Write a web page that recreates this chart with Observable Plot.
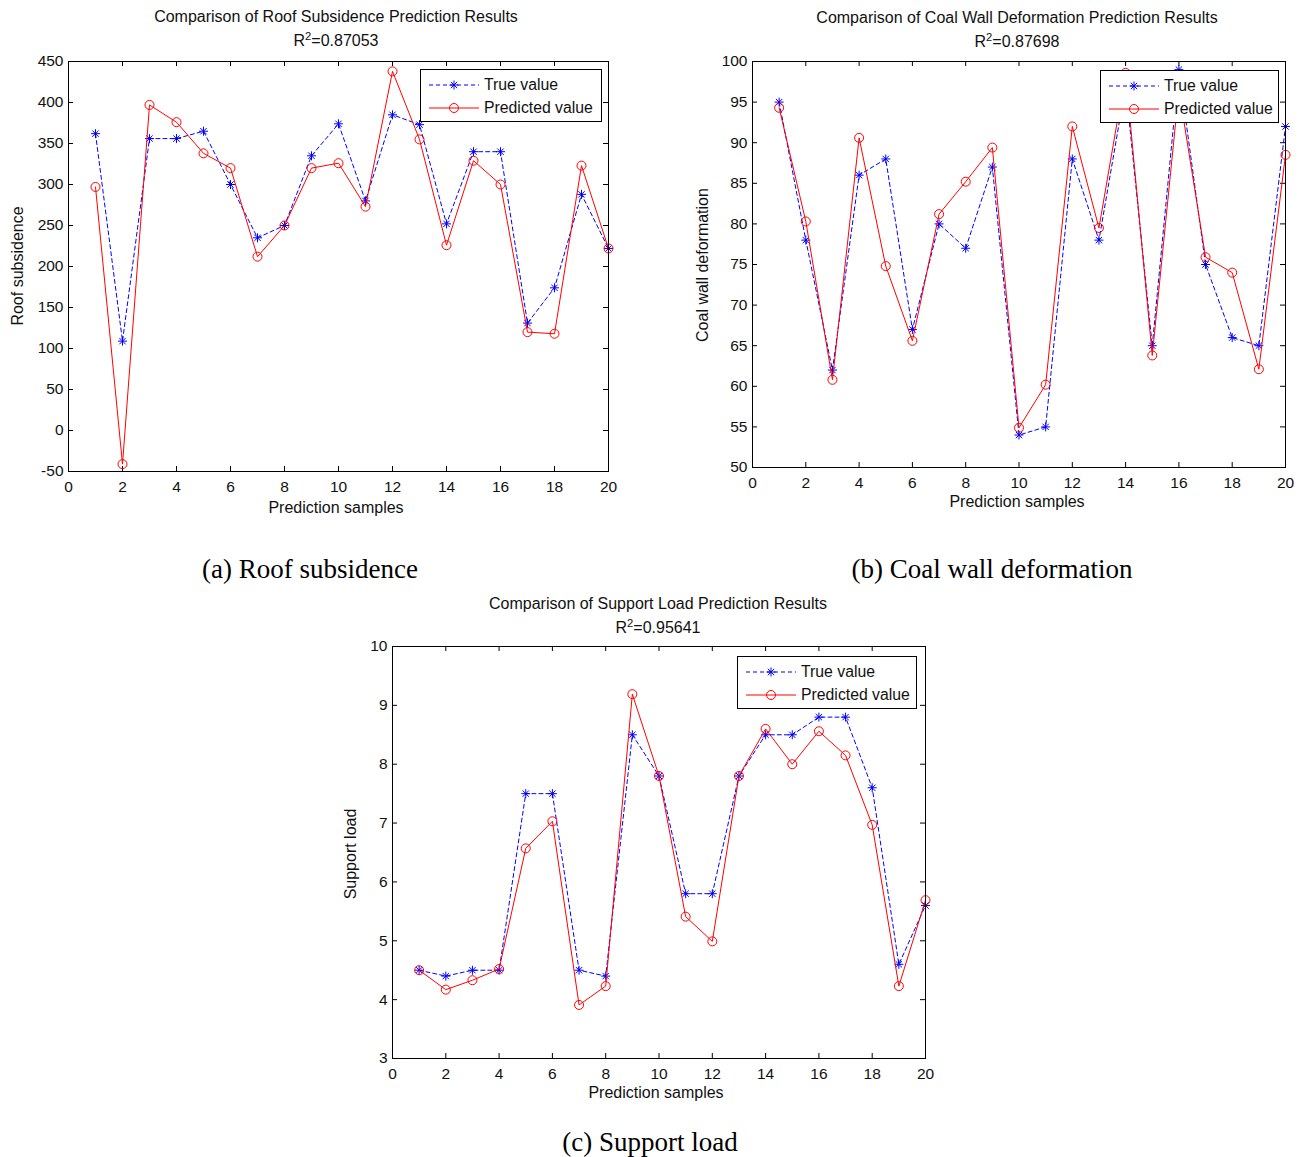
<!DOCTYPE html>
<html><head><meta charset="utf-8">
<script src="https://cdn.jsdelivr.net/npm/d3@7"></script>
<script src="https://cdn.jsdelivr.net/npm/@observablehq/plot@0.6"></script>
<style>
body{margin:0;background:#fff;}
#root{position:relative;width:1306px;height:1157px;background:#fff;font-family:Arial,"Liberation Sans",sans-serif;color:#111;overflow:hidden}
.abs{position:absolute;white-space:nowrap;line-height:1;transform:translate(-50%,-50%)}
.title{font-size:16px}
.xlab{font-size:16px}
.ylab{font-size:16px;transform:translate(-50%,-50%) rotate(-90deg)}
.cap{font-family:"Liberation Serif","Times New Roman",serif;font-size:27px;color:#000}
.legend{position:absolute;border:1px solid #000;background:#fff;box-sizing:border-box;font-size:15.8px}
.legend .row{position:absolute;left:0;display:flex;align-items:center;height:22px}
.legend svg{display:block}
sup{font-size:0.7em;vertical-align:0.5em;line-height:0}
svg.panel{position:absolute}
</style></head><body><div id="root"></div>
<script>
// ---------------- data ----------------
const samples = [1,2,3,4,5,6,7,8,9,10,11,12,13,14,15,16,17,18,19,20];
const xTicks = [0,2,4,6,8,10,12,14,16,18,20];

const roofTrue = [362,109,356,356,365,300,235,250,335,374,280,385,373,252,340,340,131,174,288,222];
const roofPred = [297,-41,397,376,338,320,212,250,320,326,273,438,355,226,329,300,120,118,323,222];
const roofTicks = [-50,0,50,100,150,200,250,300,350,400,450];

const coalTrue = [95,78,62,86,88,67,80,77,87,54,55,88,78,97,65,99,75,66,65,92];
const coalPred = [94.3,80.3,60.8,90.6,74.8,65.6,81.2,85.2,89.4,54.9,60.2,92,79.5,98.6,63.8,96.5,75.9,74,62.1,88.5];
const coalTicks = [50,55,60,65,70,75,80,85,90,95,100];

const loadTrue = [4.5,4.4,4.5,4.5,7.5,7.5,4.5,4.4,8.5,7.8,5.8,5.8,7.8,8.5,8.5,8.8,8.8,7.6,4.6,5.6];
const loadPred = [4.5,4.17,4.33,4.52,6.57,7.03,3.91,4.23,9.19,7.8,5.41,4.99,7.8,8.6,8.0,8.56,8.15,6.97,4.23,5.69];
const loadTicks = [3,4,5,6,7,8,9,10];

const seriesNames = ["True value","Predicted value"];
const BLUE = "#0000ff", RED = "#ff0000";

// ---------------- panels ----------------
const panels = [
  {tv: roofTrue, pv: roofPred, yTicks: roofTicks, yDomain:[-50,450],
   frame:{left:68,right:608,top:61,bottom:471},
   title:"Comparison of Roof Subsidence Prediction Results", r2:"0.87053",
   titleX:336, titleY:17, r2Y:41,
   xlabel:"Prediction samples", xlabX:336, xlabY:508,
   ylabel:"Roof subsidence", ylabX:18, ylabY:266,
   caption:"(a) Roof subsidence", capX:310, capY:569,
   legend:{left:420, top:69, width:182, height:53}},
  {tv: coalTrue, pv: coalPred, yTicks: coalTicks, yDomain:[50,100],
   frame:{left:752,right:1285,top:61,bottom:467},
   title:"Comparison of Coal Wall Deformation Prediction Results", r2:"0.87698",
   titleX:1017, titleY:18, r2Y:42,
   xlabel:"Prediction samples", xlabX:1017, xlabY:502,
   ylabel:"Coal wall deformation", ylabX:703, ylabY:265,
   caption:"(b) Coal wall deformation", capX:992, capY:569,
   legend:{left:1100, top:70, width:179, height:53}},
  {tv: loadTrue, pv: loadPred, yTicks: loadTicks, yDomain:[3,10],
   frame:{left:392,right:925,top:646,bottom:1058},
   title:"Comparison of Support Load Prediction Results", r2:"0.95641",
   titleX:658, titleY:604, r2Y:628,
   xlabel:"Prediction samples", xlabX:656, xlabY:1093,
   ylabel:"Support load", ylabX:351, ylabY:854,
   caption:"(c) Support load", capX:650, capY:1142,
   legend:{left:737, top:656, width:180, height:53}}
];

const star = {draw(ctx, size){
  const r = Math.sqrt(size/Math.PI), d = r*Math.SQRT1_2;
  ctx.moveTo(-r,0); ctx.lineTo(r,0); ctx.moveTo(0,-r); ctx.lineTo(0,r);
  ctx.moveTo(-d,-d); ctx.lineTo(d,d); ctx.moveTo(-d,d); ctx.lineTo(d,-d);
}};

const root = document.getElementById("root");
function addText(cls, html, x, y){
  const el = document.createElement("div");
  el.className = "abs " + cls; el.innerHTML = html;
  el.style.left = x+"px"; el.style.top = y+"px";
  root.appendChild(el); return el;
}

for (const cfg of panels){
  const ml=70, mt=10, mr=20, mb=50;
  const fw = cfg.frame.right - cfg.frame.left, fh = cfg.frame.bottom - cfg.frame.top;
  const rows = samples.map((s,i)=>({x:s, t:cfg.tv[i], p:cfg.pv[i]}));
  const svg = Plot.plot({
    width: fw+ml+mr, height: fh+mt+mb,
    marginLeft: ml, marginTop: mt, marginRight: mr, marginBottom: mb,
    x:{domain:[0,20]}, y:{domain:cfg.yDomain},
    style:{fontFamily:'Arial,"Liberation Sans",sans-serif', fontSize:"15.5px", color:"#111", background:"transparent", overflow:"visible"},
    marks:[
      Plot.axisX({ticks:xTicks, tickSize:0, tickPadding:9, tickFormat:d=>String(d), label:null, fontSize:15.5}),
      Plot.axisY({ticks:cfg.yTicks, tickSize:0, tickPadding:5, tickFormat:d=>String(d), label:null, fontSize:15.5}),
      Plot.tickX(xTicks, {x:d=>d, insetTop: fh-5, stroke:"#000"}),
      Plot.tickX(xTicks, {x:d=>d, insetBottom: fh-5, stroke:"#000"}),
      Plot.tickY(cfg.yTicks, {y:d=>d, insetRight: fw-5, stroke:"#000"}),
      Plot.tickY(cfg.yTicks, {y:d=>d, insetLeft: fw-5, stroke:"#000"}),
      Plot.line(rows, {x:"x", y:"t", stroke:BLUE, strokeWidth:1, strokeDasharray:"4,3"}),
      Plot.dot(rows, {x:"x", y:"t", symbol:star, r:4.5, stroke:BLUE, fill:"none", strokeWidth:1}),
      Plot.line(rows, {x:"x", y:"p", stroke:RED, strokeWidth:1}),
      Plot.dot(rows, {x:"x", y:"p", r:4.5, stroke:RED, fill:"none", strokeWidth:1}),
      Plot.frame({stroke:"#000"})
    ]
  });
  svg.classList.add("panel");
  svg.style.left = (cfg.frame.left - ml) + "px";
  svg.style.top = (cfg.frame.top - mt) + "px";
  root.appendChild(svg);

  addText("title", cfg.title, cfg.titleX, cfg.titleY);
  addText("title", "R<sup>2</sup>=" + cfg.r2, cfg.titleX, cfg.r2Y);
  addText("xlab", cfg.xlabel, cfg.xlabX, cfg.xlabY);
  addText("ylab", cfg.ylabel, cfg.ylabX, cfg.ylabY);
  addText("cap", cfg.caption, cfg.capX, cfg.capY);

  // legend
  const lg = document.createElement("div");
  lg.className = "legend";
  lg.style.left = cfg.legend.left+"px"; lg.style.top = cfg.legend.top+"px";
  lg.style.width = cfg.legend.width+"px"; lg.style.height = cfg.legend.height+"px";
  const ns = "http://www.w3.org/2000/svg";
  seriesNames.forEach((name, k)=>{
    const row = document.createElement("div");
    row.className = "row"; row.style.top = (k===0 ? 4 : 27) + "px";
    const s = document.createElementNS(ns, "svg");
    s.setAttribute("width", 62); s.setAttribute("height", 22);
    const ln = document.createElementNS(ns, "line");
    ln.setAttribute("x1", 8); ln.setAttribute("x2", 58); ln.setAttribute("y1", 11); ln.setAttribute("y2", 11);
    ln.setAttribute("stroke", k===0 ? BLUE : RED);
    if (k===0) ln.setAttribute("stroke-dasharray", "4,3");
    s.appendChild(ln);
    if (k===0){
      const p = document.createElementNS(ns, "path");
      const r = 4.5, d = r*Math.SQRT1_2, cx = 33;
      p.setAttribute("d", `M${cx-r},11H${cx+r}M${cx},${11-r}V${11+r}M${cx-d},${11-d}L${cx+d},${11+d}M${cx-d},${11+d}L${cx+d},${11-d}`);
      p.setAttribute("stroke", BLUE); p.setAttribute("fill","none");
      s.appendChild(p);
    } else {
      const c = document.createElementNS(ns, "circle");
      c.setAttribute("cx", 33); c.setAttribute("cy", 11); c.setAttribute("r", 4.5);
      c.setAttribute("stroke", RED); c.setAttribute("fill","none");
      s.appendChild(c);
    }
    row.appendChild(s);
    const t = document.createElement("span"); t.textContent = name; t.style.marginLeft = "1px";
    row.appendChild(t);
    lg.appendChild(row);
  });
  root.appendChild(lg);
}
</script></body></html>
